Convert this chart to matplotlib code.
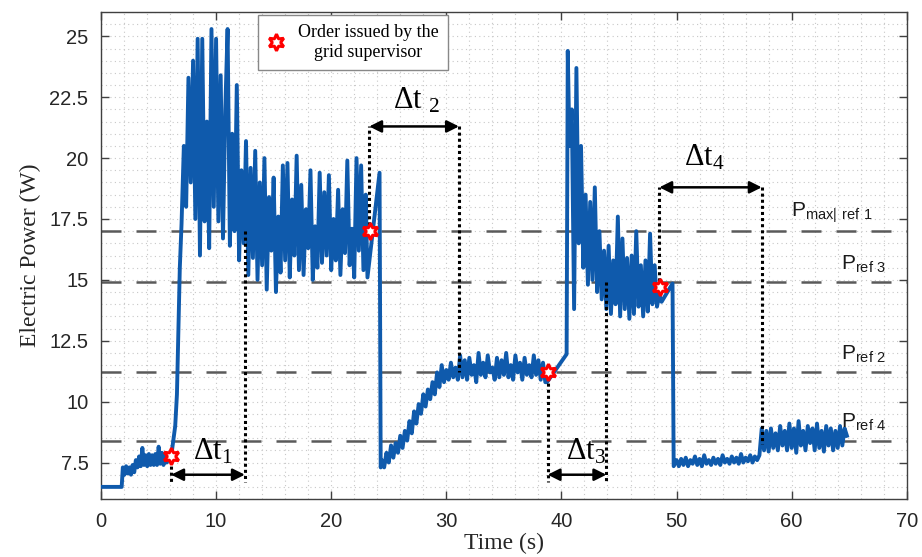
import numpy as np
import matplotlib
matplotlib.use("Agg")
import matplotlib.pyplot as plt
from matplotlib.lines import Line2D
from matplotlib.ticker import MultipleLocator

plt.rcParams["font.family"] = ["Liberation Sans", "DejaVu Sans"]
plt.rcParams["mathtext.fontset"] = "custom"
plt.rcParams["mathtext.rm"] = "Liberation Serif"
plt.rcParams["mathtext.sf"] = "Liberation Sans"
plt.rcParams["mathtext.default"] = "regular"

# ---- data ----
# short transitions: explicit (time, power) pairs
t_idle = [0.0, 1.8]
p_idle = [6.5, 6.5]

t_rise1 = [6.1, 6.45, 6.6, 6.85, 7.0]
p_rise1 = [7.75, 9.0, 10.3, 15.5, 17.3]

t_drop2 = [23.15, 24.2, 24.3]
p_drop2 = [15.1, 19.4, 7.3]

t_rise3 = [38.75, 40.45, 40.55]
p_rise3 = [10.8, 11.95, 24.4]

t_drop4 = [48.7, 49.65, 49.75]
p_drop4 = [14.1, 14.85, 7.35]

# noisy stretches: values sampled evenly between the given start/end times
p_start = [7.3, 7.0, 7.35, 7.05, 7.3, 7.0, 7.4, 7.1, 7.6, 7.3,
           7.75, 7.35, 8.1, 7.4, 7.8, 7.35, 7.85, 7.4, 7.8, 7.4,
           7.85, 7.4, 8.15, 7.45, 7.9, 7.4, 7.85, 7.5, 7.8, 7.75]
p_surge1 = [20.5, 18.0, 23.3, 19.0, 24.0, 17.5, 24.9, 16.0, 24.9, 17.4,
            21.5, 16.3, 25.3, 18.0, 24.9, 17.4, 23.4, 16.7, 22.0, 25.3,
            16.4, 21.0, 17.0, 23.0, 15.8, 19.5, 16.5]
p_hold1 = [20.7, 15.2, 19.6, 15.9, 20.3, 15.0, 19.0, 15.6, 20.0, 14.6,
           18.4, 16.2, 19.2, 14.5, 17.6, 15.3, 19.7, 15.8, 19.8, 15.1,
           18.3, 16.0, 20.1, 15.4, 18.9, 15.2, 17.9, 16.3, 19.5, 15.0,
           17.2, 15.5, 19.4, 15.7, 18.6, 16.0, 19.3, 15.4, 17.5, 15.8,
           18.7, 15.2, 17.9, 16.1, 19.9, 15.6, 17.1, 15.1, 20.0, 16.2,
           19.7, 15.4, 18.5]
p_recover2 = [7.6, 7.3, 7.9, 7.5, 8.2, 7.7, 8.3, 7.9, 8.6, 8.1,
              8.8, 8.4, 9.2, 8.7, 9.6, 9.1, 9.9, 9.5, 10.3, 9.8,
              10.5, 10.1, 10.8, 10.3, 11.2, 10.6, 11.5, 10.8, 11.3, 10.9,
              11.6, 11.0, 11.4, 10.9]
p_hold2 = [11.9, 11.0, 11.7, 10.9, 11.8, 11.1, 11.5, 10.8, 12.0, 11.1,
           11.6, 11.0, 11.9, 11.2, 11.4, 10.9, 11.8, 11.0, 11.7, 11.1,
           12.0, 11.0, 11.5, 10.9, 11.9, 11.2, 11.6, 10.9, 11.8, 11.1,
           11.5, 11.0, 11.9, 11.1, 11.7, 10.9, 11.6, 10.8]
p_surge2 = [20.5, 22.0, 13.8, 23.7, 16.5, 20.5, 15.5, 18.5, 14.8, 18.2,
            15.0, 18.8, 14.5, 17.0, 14.2, 16.2, 13.8, 16.4, 13.6, 15.8,
            14.0, 17.6, 13.5, 16.7, 13.8, 15.9, 13.4, 16.0, 13.6, 17.0,
            13.9, 15.6, 13.5, 15.8, 13.7, 16.9, 14.0, 15.6, 13.9, 14.4]
p_idle2 = [7.4, 7.6, 7.35, 7.65, 7.4, 7.7, 7.35, 7.6, 7.45, 7.75,
           7.4, 7.65, 7.35, 7.8, 7.45, 7.6, 7.4, 7.7, 7.45, 7.65,
           7.4, 7.8, 7.5, 7.65, 7.45, 7.75, 7.5, 7.7, 7.45, 7.85,
           7.5, 7.7, 7.55, 7.8, 7.5, 7.75, 7.6, 7.8]
p_hold4 = [8.9, 8.0, 8.8, 7.95, 8.9, 8.1, 8.7, 8.0, 9.0, 8.2,
           8.8, 8.0, 9.1, 8.1, 8.9, 7.9, 9.2, 8.2, 8.8, 8.0,
           9.0, 8.3, 8.9, 8.0, 9.1, 8.1, 8.8, 7.95, 9.0, 8.2,
           8.9, 8.0, 8.8, 8.1, 9.0, 8.2, 8.9, 8.6]

# reference levels and the orders of the grid supervisor
ref_levels = [17.0, 14.9, 11.2, 8.4]
ref_labels = ["P$_{max|\\ ref\\ 1}$", "P$_{ref\\ 3}$", "P$_{ref\\ 2}$", "P$_{ref\\ 4}$"]
order_t = [6.1, 23.35, 38.85, 48.55]
order_p = [7.75, 17.0, 11.2, 14.7]


def span(t0, t1, vals):
    return list(np.linspace(t0, t1, len(vals))), list(vals)


pieces = [
    (t_idle, p_idle),
    span(1.9, 6.0, p_start),
    (t_rise1, p_rise1),
    span(7.2, 12.4, p_surge1),
    span(12.6, 23.0, p_hold1),
    (t_drop2, p_drop2),
    span(24.4, 31.0, p_recover2),
    span(31.2, 38.6, p_hold2),
    (t_rise3, p_rise3),
    span(40.7, 48.5, p_surge2),
    (t_drop4, p_drop4),
    span(49.8, 57.2, p_idle2),
    span(57.4, 64.8, p_hold4),
]
t = np.concatenate([np.asarray(a) for a, b in pieces])
p = np.concatenate([np.asarray(b) for a, b in pieces])

fig = plt.figure(figsize=(9.22, 5.57), dpi=100)
ax = fig.add_axes([0.1095, 0.104, 0.874, 0.8745])

ax.set_xlim(0, 70)
ax.set_ylim(6, 26)
ax.xaxis.set_major_locator(MultipleLocator(10))
ax.xaxis.set_minor_locator(MultipleLocator(2))
ax.yaxis.set_major_locator(MultipleLocator(2.5))
ax.yaxis.set_minor_locator(MultipleLocator(0.5))
ax.yaxis.set_major_formatter(plt.FuncFormatter(lambda v, pos: f"{v:g}"))
ax.grid(which="both", color="#c8c8c8", linestyle=(0, (1, 3)), linewidth=0.8)
ax.set_axisbelow(True)
ax.tick_params(which="major", direction="in", top=True, right=True, length=6,
               width=1, color="#404040", labelsize=14.5, labelcolor="#262626", pad=9)
ax.tick_params(which="minor", length=0)
for s in ax.spines.values():
    s.set_color("#404040")
    s.set_linewidth(1)

for lvl in ref_levels:
    ax.axhline(lvl, color="#5a5a5a", lw=1.8, dashes=(8, 6), zorder=2)

ax.plot(t, p, color="#0f5aac", lw=2.8, zorder=3)

# dotted guides and arrows
dot = dict(color="k", lw=2.2, linestyle=(0, (1, 1)), zorder=4)
ax.plot([6.1, 6.1], [7.6, 6.7], **dot)
ax.plot([12.5, 12.5], [17.0, 6.7], **dot)
ax.plot([23.3, 23.3], [17.0, 21.3], **dot)
ax.plot([31.1, 31.1], [21.3, 11.2], **dot)
ax.plot([38.8, 38.8], [11.0, 6.7], **dot)
ax.plot([43.9, 43.9], [14.9, 6.7], **dot)
ax.plot([48.5, 48.5], [14.7, 18.8], **dot)
ax.plot([57.4, 57.4], [18.8, 8.25], **dot)

arr = dict(arrowstyle="<|-|>", color="k", lw=1.8, mutation_scale=18, shrinkA=0, shrinkB=0)
for x0, x1, y in [(6.1, 12.5, 7.0), (23.3, 31.1, 21.3), (38.8, 43.9, 7.0), (48.5, 57.4, 18.8)]:
    ax.annotate("", xy=(x1, y), xytext=(x0, y), arrowprops=arr, zorder=5)

dt_font = dict(fontsize=22, family="Liberation Serif", ha="center", va="center")
ax.text(9.7, 7.95, "Δt$_1$", **dt_font)
ax.text(27.4, 22.35, "Δt$_{\\ 2}$", **dt_font)
ax.text(42.1, 7.95, "Δt$_3$", **dt_font)
ax.text(52.4, 20.0, "Δt$_4$", **dt_font)

ref_pos = [(59.9, 17.75), (64.3, 15.65), (64.3, 11.95), (64.3, 9.15)]
for (x, y), lab in zip(ref_pos, ref_labels):
    ax.text(x, y, lab, fontsize=15, ha="left", va="center", color="#1a1a1a")

ax.plot(order_t, order_p, linestyle="none", marker=(6, 1, 0), markersize=12,
        markerfacecolor="white", markeredgecolor="red", markeredgewidth=2.2, zorder=6)

handle = Line2D([], [], linestyle="none", marker=(6, 1, 0), markersize=12,
                markerfacecolor="white", markeredgecolor="red", markeredgewidth=2.2)
leg = ax.legend([handle], ["Order issued by the\ngrid supervisor"], loc="upper left",
                bbox_to_anchor=(0.195, 0.994), borderaxespad=0, fancybox=False,
                framealpha=1, edgecolor="#888888", handlelength=1.0, handletextpad=0.7,
                borderpad=0.5, prop={"family": "Liberation Serif", "size": 13})
for txt in leg.get_texts():
    txt.set_multialignment("center")
leg.get_frame().set_linewidth(1)

ax.set_xlabel("Time (s)", family="Liberation Serif", fontsize=17, color="#262626", labelpad=2)
ax.set_ylabel("Electric Power (W)", family="Liberation Serif", fontsize=17, color="#262626", labelpad=6)

fig.savefig("out.png", dpi=100)
